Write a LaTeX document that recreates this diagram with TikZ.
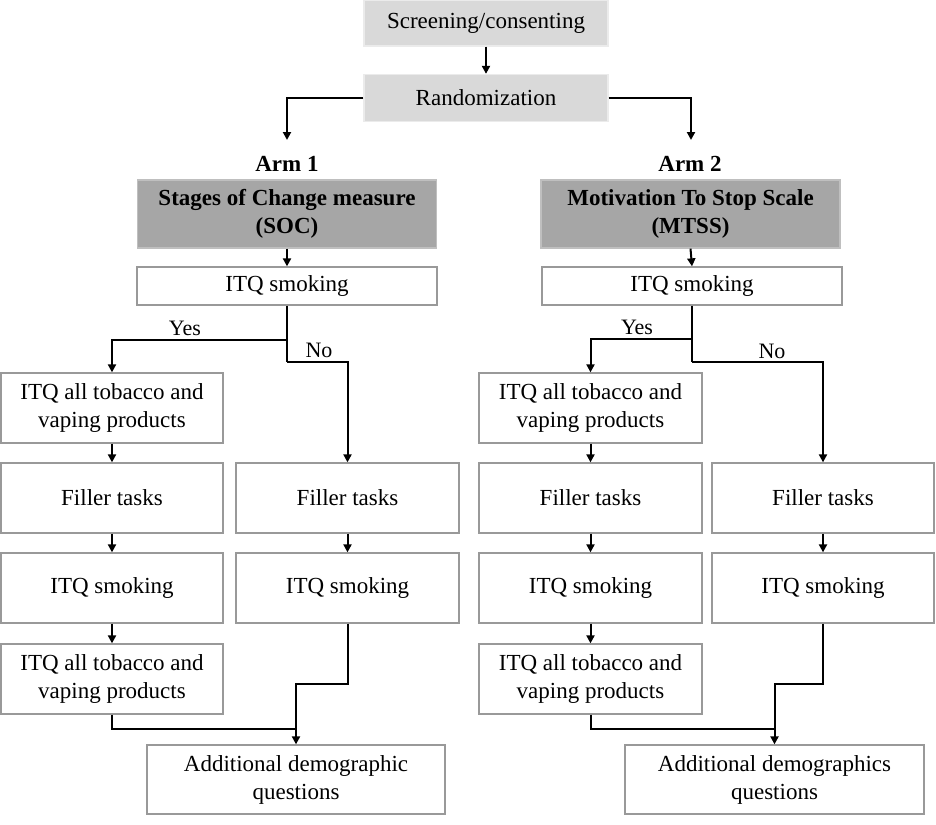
\documentclass[tikz,border=0pt]{standalone}
\usepackage{fontspec}
\setmainfont{Liberation Serif}
\usetikzlibrary{arrows.meta}
\begin{document}
\begin{tikzpicture}[x=1pt,y=-1pt,
  box/.style={draw=black!40, line width=1.3pt, fill=white, align=center, inner sep=0pt,
    font=\fontsize{23}{28}\selectfont},
  lbox/.style={box, fill=black!15, draw=black!8},
  dbox/.style={box, fill=black!35, draw=black!25, font=\fontsize{23}{28}\selectfont\bfseries},
  conn/.style={line width=2pt, -{Triangle[length=8pt,width=8pt]}},
  seg/.style={line width=2pt},
  lab/.style={font=\fontsize{22}{24}\selectfont, inner sep=0pt},
  armlab/.style={font=\fontsize{23}{24}\selectfont\bfseries, inner sep=0pt}]
\useasboundingbox (0,0) rectangle (936,824);
% top
\node[lbox, minimum width=244, minimum height=46] (scr) at (486,23) {Screening/consenting};
\node[lbox, minimum width=244, minimum height=47] (rand) at (486,98) {Randomization};
\draw[conn] (scr.south) -- (rand.north);
% arm labels
\node[armlab] (arm1) at (287,164) {Arm 1};
\node[armlab] (arm2) at (690,164) {Arm 2};
\coordinate (a1end) at (287,140);
\coordinate (a2end) at (691,140);
\draw[conn] (rand.west) -| (a1end);
\draw[conn] (rand.east) -| (a2end);
% ================= Arm 1
\node[dbox, minimum width=299, minimum height=68] (soc) at (287,214) {Stages of Change measure\\(SOC)};
\node[box, minimum width=300, minimum height=38] (itqA) at (287,286) {ITQ smoking};
\draw[conn] (soc.south) -- (itqA.north);
\node[box, minimum width=222, minimum height=70] (allA1) at (112,408) {ITQ all tobacco and\\vaping products};
\node[box, minimum width=222, minimum height=70] (filA1) at (112,498) {Filler tasks};
\node[box, minimum width=222, minimum height=70] (smA1) at (112,588) {ITQ smoking};
\node[box, minimum width=222, minimum height=70] (allA2) at (112,679) {ITQ all tobacco and\\vaping products};
\node[box, minimum width=223, minimum height=70] (filA2) at (347.5,498) {Filler tasks};
\node[box, minimum width=223, minimum height=70] (smA2) at (347.5,588) {ITQ smoking};
\node[box, minimum width=298, minimum height=69] (addA) at (296,779.5) {Additional demographic\\questions};
\coordinate (jA) at (287,340);
\coordinate (kA) at (287,362);
\coordinate (mA) at (296,729);
\draw[seg] (itqA.south) -- (jA) -- (kA);
\draw[conn] (jA) -| (allA1.north);
\draw[conn] (kA) -| (filA2.north);
\node[lab] (yesA) at (185,328) {Yes};
\node[lab] (noA) at (319,350) {No};
\draw[conn] (allA1.south) -- (filA1.north);
\draw[conn] (filA1.south) -- (smA1.north);
\draw[conn] (smA1.south) -- (allA2.north);
\draw[conn] (filA2.south) -- (smA2.north);
\draw[seg] (allA2.south) |- (mA);
\draw[conn] (smA2.south) -- ++(0,60) -| (addA.north);
% ================= Arm 2
\node[dbox, minimum width=299, minimum height=68] (mtss) at (690.5,214) {Motivation To Stop Scale\\(MTSS)};
\node[box, minimum width=300, minimum height=38] (itqB) at (692,286) {ITQ smoking};
\draw[conn] (mtss.south) -- (itqB.north);
\node[box, minimum width=223, minimum height=70] (allB1) at (590.5,408) {ITQ all tobacco and\\vaping products};
\node[box, minimum width=223, minimum height=70] (filB1) at (590.5,498) {Filler tasks};
\node[box, minimum width=223, minimum height=70] (smB1) at (590.5,588) {ITQ smoking};
\node[box, minimum width=223, minimum height=70] (allB2) at (590.5,679) {ITQ all tobacco and\\vaping products};
\node[box, minimum width=222, minimum height=70] (filB2) at (823,498) {Filler tasks};
\node[box, minimum width=222, minimum height=70] (smB2) at (823,588) {ITQ smoking};
\node[box, minimum width=299, minimum height=69] (addB) at (774.5,779.5) {Additional demographics\\questions};
\coordinate (jB) at (692,339);
\coordinate (kB) at (692,362);
\coordinate (mB) at (775,729);
\draw[seg] (itqB.south) -- (jB) -- (kB);
\draw[conn] (jB) -| (allB1.north);
\draw[conn] (kB) -| (filB2.north);
\node[lab] (yesB) at (637,327) {Yes};
\node[lab] (noB) at (772,351) {No};
\draw[conn] (allB1.south) -- (filB1.north);
\draw[conn] (filB1.south) -- (smB1.north);
\draw[conn] (smB1.south) -- (allB2.north);
\draw[conn] (filB2.south) -- (smB2.north);
\draw[seg] (allB2.south) |- (mB);
\draw[conn] (smB2.south) -- ++(0,60) -| (addB.north);
\end{tikzpicture}
\end{document}
